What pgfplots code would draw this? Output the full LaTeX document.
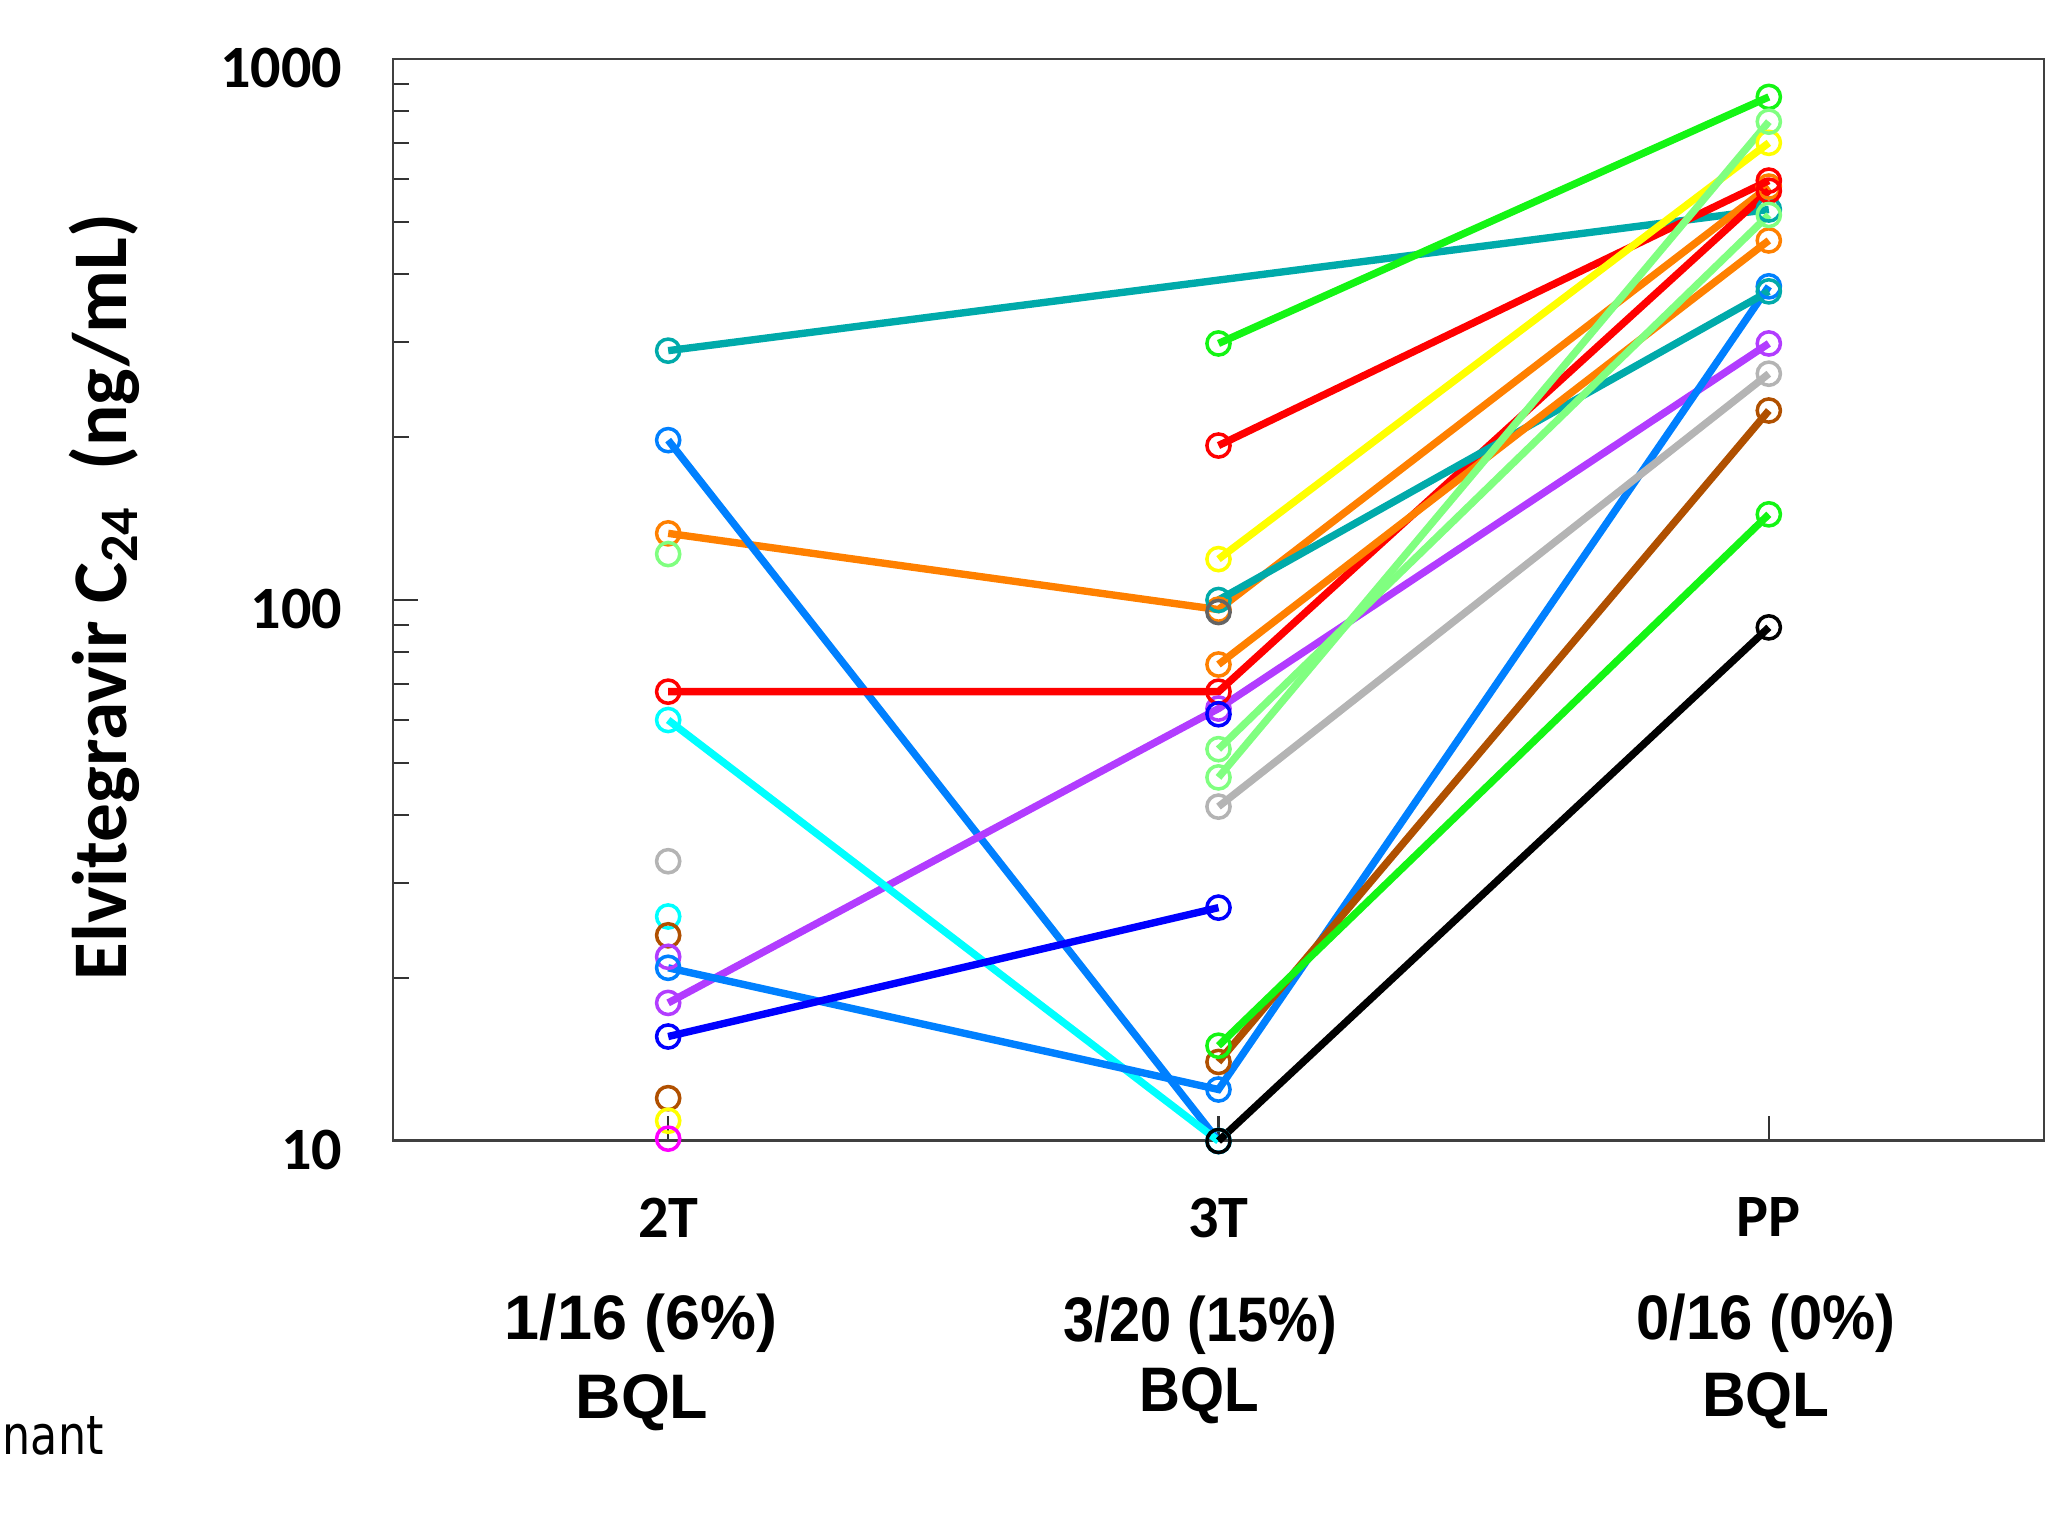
\documentclass[border=0pt]{standalone}
\usepackage{pgfplots}
\pgfplotsset{compat=1.18}
\usepackage{fontspec}
\setmainfont{Carlito}
\newfontfamily\arialf{Liberation Sans}
\newfontfamily\dejavu{DejaVu Sans}
\definecolor{cteal}{RGB}{0,170,170}
\definecolor{cdodger}{RGB}{0,128,255}
\definecolor{corange}{RGB}{255,128,0}
\definecolor{clgreen}{RGB}{128,255,128}
\definecolor{cred}{RGB}{255,0,0}
\definecolor{ccyan}{RGB}{0,255,255}
\definecolor{cgray}{RGB}{180,180,180}
\definecolor{cbrown}{RGB}{176,80,0}
\definecolor{cpurple}{RGB}{178,60,255}
\definecolor{cblue}{RGB}{0,0,255}
\definecolor{cyellow}{RGB}{255,255,0}
\definecolor{cmagenta}{RGB}{255,0,255}
\definecolor{cgreen}{RGB}{20,245,20}
\definecolor{cdgray}{RGB}{100,100,100}
\pgfplotsset{ser/.style={color=#1, line width=2.1pt, mark=o, mark size=3.3pt, mark options={line width=1pt, solid}}}
\begin{document}
\begin{tikzpicture}[x=1cm,y=1cm]
\useasboundingbox (0,0) rectangle (20.48,15.23);
\begin{axis}[
  at={(3.93cm,3.82cm)}, anchor=south west,
  width=16.51cm, height=10.82cm, scale only axis,
  xmin=0.5, xmax=3.5, ymode=log, ymin=10, ymax=1000,
  xtick={1,2,3}, xticklabels={2T,3T,PP},
  ytick={10,100,1000}, yticklabels={10,100,1000},
  minor ytick={20,30,40,50,60,70,80,90,200,300,400,500,600,700,800,900},
  tick align=inside, xtick pos=bottom, ytick pos=left,
  major tick length=0.25cm, minor tick length=0.16cm,
  axis line style={line width=0.85pt, color=black!75},
  every tick/.style={line width=0.6pt, black!80},
  xticklabel style={font=\bfseries\fontsize{17.1}{20}\selectfont, inner sep=0pt, anchor=north, yshift=-0.56cm},
  yticklabel style={font=\bfseries\fontsize{17.1}{20}\selectfont, inner sep=0pt, anchor=east, xshift=-0.5cm, yshift=-0.09cm},
  clip=false,
]
% subjects starting at 2T
\addplot[ser=cteal] coordinates {(1,289) (3,527)};
\addplot[ser=corange] coordinates {(1,132.8) (2,96) (3,581)};
\addplot[ser=cdodger] coordinates {(1,197.5) (2,10)};
\addplot[ser=clgreen, only marks] coordinates {(1,121.6)};
\addplot[ser=cpurple] coordinates {(1,18) (2,63) (3,298)};
\addplot[ser=cred] coordinates {(1,67.7) (2,67.7) (3,571)};
\addplot[ser=ccyan] coordinates {(1,60) (2,10)};
\addplot[ser=cgray, only marks] coordinates {(1,32.9)};
\addplot[ser=ccyan, only marks] coordinates {(1,26)};
\addplot[ser=cbrown, only marks] coordinates {(1,24)};
\addplot[ser=cpurple, only marks] coordinates {(1,21.9)};
\addplot[ser=cdodger] coordinates {(1,20.9) (2,12.45) (3,380)};
\addplot[ser=cblue] coordinates {(1,15.6) (2,27)};
\addplot[ser=cbrown, only marks] coordinates {(1,12)};
\addplot[ser=cyellow, only marks] coordinates {(1,10.9)};
\addplot[ser=cmagenta, only marks] coordinates {(1,10.1)};
% subjects starting at 3T
\addplot[ser=cgreen] coordinates {(2,298) (3,851)};
\addplot[ser=cred] coordinates {(2,193) (3,596)};
\addplot[ser=cyellow] coordinates {(2,119) (3,700)};
\addplot[ser=cteal] coordinates {(2,100) (3,372)};
\addplot[ser=cdgray, only marks] coordinates {(2,95)};
\addplot[ser=corange] coordinates {(2,76) (3,462)};
\addplot[ser=cblue, only marks] coordinates {(2,61.5)};
\addplot[ser=clgreen] coordinates {(2,53) (3,515)};
\addplot[ser=clgreen] coordinates {(2,47) (3,766)};
\addplot[ser=cgray] coordinates {(2,41.5) (3,262)};
\addplot[ser=cbrown] coordinates {(2,14) (3,224)};
\addplot[ser=cgreen] coordinates {(2,15) (3,144)};
\addplot[ser=black] coordinates {(2,10) (3,89)};
\end{axis}
\node[rotate=90, anchor=base, font=\bfseries\fontsize{22}{26}\selectfont] at (1.27,9.26) {Elvitegravir C\textsubscript{24}\ \ (ng/mL)};
\begin{scope}[every node/.style={anchor=base, font=\arialf\bfseries\fontsize{17.9}{21}\selectfont}]
\node at (6.41,1.83) {1/16 (6\%)};
\node at (6.42,1.05) {BQL};
\node at (12.00,1.81) {\scalebox{0.89}[1]{3/20 (15\%)}};
\node at (11.99,1.11) {\scalebox{0.9}[1]{BQL}};
\node at (17.66,1.83) {\scalebox{0.95}[1]{0/16 (0\%)}};
\node at (17.66,1.07) {\scalebox{0.96}[1]{BQL}};
\end{scope}
\node[anchor=base west, inner sep=0pt, font=\dejavu\fontsize{15.4}{18}\selectfont] at (0.02,0.69) {\scalebox{0.82}[1]{nant}};
\end{tikzpicture}
\end{document}
